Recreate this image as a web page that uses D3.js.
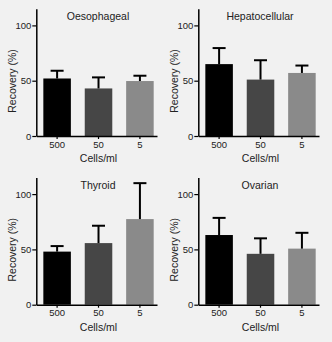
<!DOCTYPE html>
<html>
<head>
<meta charset="utf-8">
<script src="https://cdn.jsdelivr.net/npm/d3@7"></script>
<style>
  html, body { margin: 0; padding: 0; background: #f1f1f1; }
  svg { display: block; font-family: "Liberation Sans", Arial, sans-serif; }
</style>
</head>
<body>
<div id="chart"></div>
<script>
const cells = ['500', '50', '5']
const barColors = ['#000000', '#464646', '#8a8a8a']
const yTicks = [0, 50, 100]

const titles = ['Oesophageal', 'Hepatocellular', 'Thyroid', 'Ovarian']
const oesophageal = [52, 43, 49.7]
const oesophagealSd = [7, 10, 4.8]
const hepatocellular = [65, 51, 57]
const hepatocellularSd = [14.5, 17.5, 6.7]
const thyroid = [48, 55.7, 77.4]
const thyroidSd = [5, 15.7, 32.5]
const ovarian = [63, 46, 50.7]
const ovarianSd = [15.5, 14, 14.3]

const W = 332, H = 342
const svg = d3.select('#chart').append('svg').attr('width', W).attr('height', H)
svg.append('rect').attr('width', W).attr('height', H).attr('fill', '#f1f1f1')

const panels = [
  { title: titles[0], values: oesophageal, sd: oesophagealSd, x: 0, y: 0 },
  { title: titles[1], values: hepatocellular, sd: hepatocellularSd, x: 162, y: 0 },
  { title: titles[2], values: thyroid, sd: thyroidSd, x: 0, y: 168.7 },
  { title: titles[3], values: ovarian, sd: ovarianSd, x: 162, y: 168.7 },
]

// panel-local geometry
const X0 = 36.3, X1 = 157, Y0 = 136, PX_PER_UNIT = 1.106

panels.forEach(p => {
  const g = svg.append('g').attr('transform', `translate(${p.x},${p.y})`)

  const x = d3.scaleBand().domain(cells).range([X0, X1])
    .paddingInner(0.335).paddingOuter(0.125).align(0.68)
  const y = d3.scaleLinear().domain([0, 115]).range([Y0, Y0 - 115 * PX_PER_UNIT])

  const data = cells.map((c, i) => ({ c, v: p.values[i], sd: p.sd[i], color: barColors[i] }))

  g.selectAll('rect.bar').data(data).join('rect').attr('class', 'bar')
    .attr('x', d => x(d.c)).attr('width', x.bandwidth())
    .attr('y', d => y(d.v)).attr('height', d => y(0) - y(d.v))
    .attr('fill', d => d.color)

  // upper error bars
  const capW = 13
  g.selectAll('line.err').data(data).join('line').attr('class', 'err')
    .attr('x1', d => x(d.c) + x.bandwidth() / 2).attr('x2', d => x(d.c) + x.bandwidth() / 2)
    .attr('y1', d => y(d.v)).attr('y2', d => y(d.v + d.sd))
    .attr('stroke', '#000').attr('stroke-width', 2)
  g.selectAll('line.cap').data(data).join('line').attr('class', 'cap')
    .attr('x1', d => x(d.c) + x.bandwidth() / 2 - capW / 2)
    .attr('x2', d => x(d.c) + x.bandwidth() / 2 + capW / 2)
    .attr('y1', d => y(d.v + d.sd)).attr('y2', d => y(d.v + d.sd))
    .attr('stroke', '#000').attr('stroke-width', 2)

  // axes
  const ya = g.append('g').attr('transform', `translate(${X0},0)`)
    .call(d3.axisLeft(y).tickValues(yTicks).tickSize(4).tickSizeOuter(0).tickPadding(1))
  ya.select('.domain').attr('stroke-width', 1.5)
  ya.selectAll('line').attr('stroke-width', 1.2)
  ya.selectAll('text').style('font-size', '9.5px').attr('fill', '#222')

  const xa = g.append('g').attr('transform', `translate(0,${Y0})`)
    .call(d3.axisBottom(x).tickSize(3).tickSizeOuter(0).tickPadding(2))
  xa.select('.domain').attr('stroke-width', 1.5)
  xa.selectAll('line').attr('stroke-width', 1.2)
  xa.selectAll('text').style('font-size', '9.5px').attr('fill', '#222')

  g.append('text').attr('transform', 'rotate(-90)')
    .attr('x', -81).attr('y', 16).attr('text-anchor', 'middle')
    .style('font-size', '10.5px').attr('fill', '#222').text('Recovery (%)')

  g.append('text').attr('x', x('50') + x.bandwidth() / 2).attr('y', 162)
    .attr('text-anchor', 'middle').style('font-size', '10.5px').attr('fill', '#222')
    .text('Cells/ml')

  g.append('text').attr('x', 98).attr('y', 20)
    .attr('text-anchor', 'middle').style('font-size', '10.5px').attr('fill', '#222')
    .text(p.title)
})
</script>
</body>
</html>
